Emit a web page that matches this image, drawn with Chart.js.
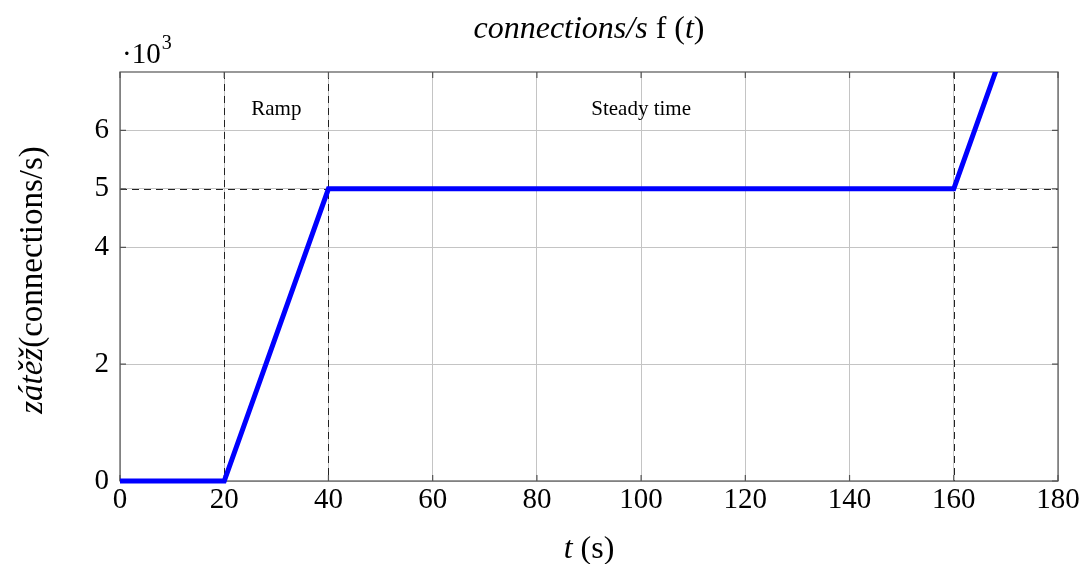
<!DOCTYPE html>
<html>
<head>
<meta charset="utf-8">
<script src="https://cdn.jsdelivr.net/npm/chart.js@4/dist/chart.umd.min.js"></script>
<style>
  html, body { margin: 0; padding: 0; background: #fff; }
  #wrap { width: 1087px; height: 564px; }
</style>
</head>
<body>
<div id="wrap"><canvas id="chart"></canvas></div>
<script>
"use strict";

const timeSec = [0, 20, 40, 160, 180];
const loadK = [0, 0, 5, 5, 10];
const xTicks = [0, 20, 40, 60, 80, 100, 120, 140, 160, 180];
const yTicks = [0, 2, 4, 5, 6];
const markerX = [20, 40, 160];
const steadyLevel = 5;
const phaseLabels = ['Ramp', 'Steady time'];
const phaseX = [30, 100];
const phaseY = 6.35;

const serif = '"Liberation Serif", "DejaVu Serif", serif';

// draws several font runs next to each other, centred on cx
function runs(ctx, parts, cx, y) {
    let w = 0;
    parts.forEach(p => { ctx.font = p[0]; w += ctx.measureText(p[1]).width; });
    let px = cx - w / 2;
    ctx.textAlign = 'left';
    parts.forEach(p => { ctx.font = p[0]; ctx.fillText(p[1], px, y); px += ctx.measureText(p[1]).width; });
}

const overlay = {
    id: 'overlay',
    beforeDatasetsDraw(chart) {
        const { ctx, chartArea: a, scales: { x, y } } = chart;
        ctx.save();
        ctx.strokeStyle = '#222';
        ctx.lineWidth = 1;
        ctx.setLineDash([7, 5]);
        markerX.forEach(v => {
            const px = Math.round(x.getPixelForValue(v)) + 0.5;
            ctx.beginPath();
            ctx.moveTo(px, a.top);
            ctx.lineTo(px, a.bottom);
            ctx.stroke();
        });
        const py = Math.round(y.getPixelForValue(steadyLevel)) + 0.5;
        ctx.beginPath();
        ctx.moveTo(a.left, py);
        ctx.lineTo(a.right, py);
        ctx.stroke();
        ctx.setLineDash([]);

        // frame and inner ticks
        ctx.strokeStyle = '#555';
        ctx.lineWidth = 1.2;
        ctx.strokeRect(a.left, a.top, a.right - a.left, a.bottom - a.top);
        ctx.beginPath();
        xTicks.forEach(v => {
            const px = x.getPixelForValue(v);
            ctx.moveTo(px, a.bottom); ctx.lineTo(px, a.bottom - 6);
            ctx.moveTo(px, a.top); ctx.lineTo(px, a.top + 6);
        });
        yTicks.forEach(v => {
            const p = y.getPixelForValue(v);
            ctx.moveTo(a.left, p); ctx.lineTo(a.left + 6, p);
            ctx.moveTo(a.right, p); ctx.lineTo(a.right - 6, p);
        });
        ctx.stroke();

        ctx.fillStyle = '#000';
        ctx.font = '21px ' + serif;
        ctx.textAlign = 'center';
        ctx.textBaseline = 'middle';
        phaseLabels.forEach((t, i) => {
            ctx.fillText(t, x.getPixelForValue(phaseX[i]), y.getPixelForValue(phaseY));
        });
        ctx.restore();
    },
    afterDraw(chart) {
        const { ctx, chartArea: a } = chart;
        const cx = (a.left + a.right) / 2;
        const it = 'italic 32px ' + serif, up = '32px ' + serif;
        ctx.save();
        ctx.fillStyle = '#000';
        ctx.textBaseline = 'alphabetic';

        runs(ctx, [[it, 'connections/s'], [up, ' f ('], [it, 't'], [up, ')']], cx, 38);

        // exponent label
        ctx.textAlign = 'left';
        ctx.font = '29px ' + serif;
        ctx.fillText('·10', a.left + 2, 63);
        const bw = ctx.measureText('·10').width;
        ctx.font = '20px ' + serif;
        ctx.fillText('3', a.left + 3 + bw, 49);

        runs(ctx, [[it, 't'], [up, ' (s)']], cx, 558);

        ctx.translate(42, 280);
        ctx.rotate(-Math.PI / 2);
        runs(ctx, [['italic 33px ' + serif, 'zátěž'], ['33px ' + serif, '(connections/s)']], 0, 0);
        ctx.restore();
    }
};

new Chart(document.getElementById('chart'), {
    type: 'line',
    data: {
        datasets: [{
            data: timeSec.map((t, i) => ({ x: t, y: loadK[i] })),
            borderColor: '#0000ff',
            borderWidth: 5,
            pointRadius: 0,
            fill: false,
            tension: 0,
            clip: { left: 3, right: 0, top: 0, bottom: 3 }
        }]
    },
    options: {
        responsive: true,
        maintainAspectRatio: false,
        animation: false,
        layout: { padding: { top: 72, right: 29, left: 0, bottom: 0 } },
        plugins: {
            legend: { display: false },
            title: { display: false },
            tooltip: { enabled: false }
        },
        scales: {
            x: {
                type: 'linear',
                min: 0,
                max: 180,
                afterBuildTicks: s => { s.ticks = xTicks.map(v => ({ value: v })); },
                afterFit: s => { s.height = 83; },
                grid: { color: '#c4c4c4', lineWidth: 1, drawTicks: false },
                border: { display: false },
                ticks: { color: '#000', font: { family: serif, size: 29 }, padding: 2, maxRotation: 0 }
            },
            y: {
                type: 'linear',
                min: 0,
                max: 7,
                afterBuildTicks: s => { s.ticks = yTicks.map(v => ({ value: v })); },
                afterFit: s => { s.width = 120; },
                grid: { color: '#c4c4c4', lineWidth: 1, drawTicks: false },
                border: { display: false },
                ticks: { color: '#000', font: { family: serif, size: 29 }, padding: 11 }
            }
        }
    },
    plugins: [overlay]
});
</script>
</body>
</html>
